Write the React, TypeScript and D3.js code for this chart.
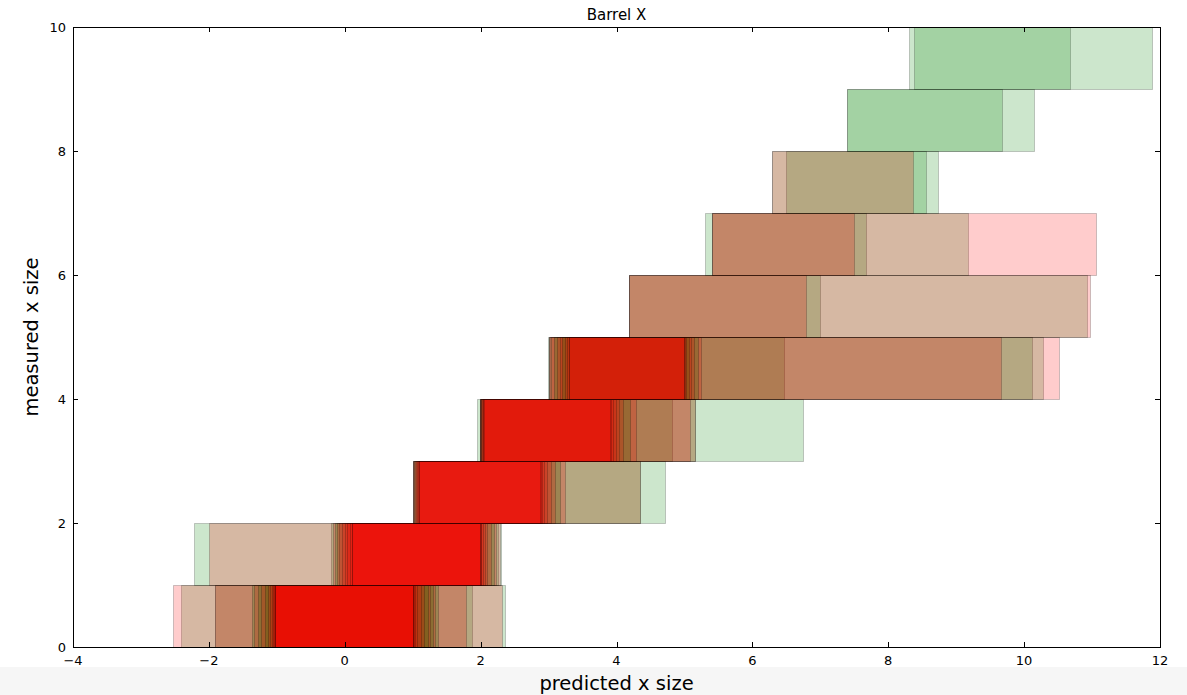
import React, { useRef, useEffect } from "react";
import * as d3 from "d3";

// tick values
const xTicks = [-4, -2, 0, 2, 4, 6, 8, 10, 12];
const yTicks = [0, 2, 4, 6, 8, 10];

// each bar: [series, predicted from, predicted to], in drawing order
type Bar = [string, number, number];

const row0: Bar[] = [
  ["g", -2.41, 2.36], ["g", -1.91, 1.87], ["r", -2.53, 2.31], ["r", -1.91, 1.79],
  ["g", -1.37, 1.37], ["r", -1.33, 1.33], ["g", -1.28, 1.3], ["r", -1.24, 1.26],
  ["g", -1.18, 1.22], ["r", -1.13, 1.17], ["r", -1.1, 1.12], ["r", -1.07, 1.07],
  ["r", -1.05, 1.04], ["r", -1.04, 1.02], ["r", -1.03, 1.01], ["r", -1.02, 1.0],
  ["r", -1.02, 1.0],
];
const row1: Bar[] = [
  ["g", -2.22, 2.3], ["g", -0.2, 2.25], ["r", -2.0, 2.28], ["r", -0.18, 2.22],
  ["g", -0.14, 2.2], ["r", -0.12, 2.15], ["r", -0.08, 2.1], ["r", -0.04, 2.06],
  ["r", 0.0, 2.03], ["r", 0.04, 2.01], ["r", 0.07, 2.0], ["r", 0.1, 1.99],
  ["r", 0.1, 1.99],
];
const row2: Bar[] = [
  ["g", 1.0, 4.72], ["g", 1.0, 4.35], ["r", 1.0, 4.35], ["r", 1.0, 3.24],
  ["g", 1.02, 3.17], ["r", 1.02, 3.1], ["r", 1.04, 3.03], ["r", 1.05, 2.98],
  ["r", 1.06, 2.94], ["r", 1.08, 2.91], ["r", 1.1, 2.89], ["r", 1.1, 2.87],
];
const row3: Bar[] = [
  ["g", 1.94, 6.74], ["g", 1.99, 5.15], ["g", 1.99, 4.81], ["r", 1.99, 5.15],
  ["r", 1.99, 5.08], ["r", 1.99, 4.29], ["g", 2.0, 4.2], ["r", 2.0, 4.1],
  ["r", 2.01, 4.04], ["r", 2.02, 3.99], ["r", 2.03, 3.95], ["r", 2.04, 3.92],
  ["r", 2.05, 3.9],
];
const row4: Bar[] = [
  ["g", 2.99, 10.28], ["g", 3.0, 10.12], ["g", 3.02, 6.47], ["r", 3.0, 10.51],
  ["r", 3.01, 9.66], ["r", 3.04, 5.25], ["g", 3.08, 5.2], ["r", 3.12, 5.14],
  ["r", 3.17, 5.1], ["g", 3.2, 5.06], ["r", 3.24, 5.03], ["r", 3.27, 5.01],
  ["r", 3.3, 5.0], ["r", 3.3, 5.0],
];
const row5: Bar[] = [
  ["g", 4.19, 10.92], ["g", 4.19, 7.0], ["r", 4.19, 10.97], ["r", 4.19, 6.79],
];
const row6: Bar[] = [
  ["g", 5.3, 9.18], ["g", 5.4, 7.67], ["r", 5.4, 11.06], ["r", 5.4, 7.49],
];
const row7: Bar[] = [
  ["g", 6.29, 8.73], ["g", 6.5, 8.56], ["r", 6.29, 8.36],
];
const row8: Bar[] = [
  ["g", 7.39, 10.14], ["g", 7.39, 9.68],
];
const row9: Bar[] = [
  ["g", 8.3, 11.88], ["g", 8.38, 10.68],
];

const measuredBins = [0, 1, 2, 3, 4, 5, 6, 7, 8, 9];
const rows = [row0, row1, row2, row3, row4, row5, row6, row7, row8, row9];

const seriesColor: Record<string, string> = { g: "#008000", r: "#ff0000" };

const App = () => {
  const svgRef = useRef<SVGSVGElement>(null);

  useEffect(() => {
    if (!svgRef.current) return;
    const svg = d3.select(svgRef.current);
    svg.selectAll("*").remove();

    const width = 1187;
    const height = 695;
    const margin = { top: 27, right: 27, bottom: 48, left: 73 };
    const font = "DejaVu Sans, sans-serif";

    const x = d3.scaleLinear().domain([-4, 12]).range([margin.left, width - margin.right]);
    const y = d3.scaleLinear().domain([0, 10]).range([height - margin.bottom, margin.top]);

    svg.append("rect").attr("width", width).attr("height", height).attr("fill", "#fff");
    svg.append("rect").attr("y", 667).attr("width", width).attr("height", height - 667).attr("fill", "#f6f6f6");

    const snap = (v: number) => Math.round(v) + 0.5;

    const plot = svg.append("g");
    measuredBins.forEach((bin, i) => {
      plot
        .append("g")
        .selectAll("rect")
        .data(rows[i])
        .join("rect")
        .attr("x", (d) => snap(x(d[1])))
        .attr("y", snap(y(bin + 1)))
        .attr("width", (d) => snap(x(d[2])) - snap(x(d[1])))
        .attr("height", snap(y(bin)) - snap(y(bin + 1)))
        .attr("fill", (d) => seriesColor[d[0]])
        .attr("fill-opacity", 0.2)
        .attr("stroke", "#000")
        .attr("stroke-opacity", 0.2)
        .attr("stroke-width", 1);
    });

    const x0 = margin.left, x1 = width - margin.right;
    const y0 = height - margin.bottom, y1 = margin.top;
    const tickLen = 5;

    const axes = svg.append("g").attr("stroke", "#000").attr("stroke-width", 1);
    xTicks.forEach((t) => {
      const px = snap(x(t));
      axes.append("line").attr("x1", px).attr("x2", px).attr("y1", y0).attr("y2", y0 - tickLen);
      axes.append("line").attr("x1", px).attr("x2", px).attr("y1", y1).attr("y2", y1 + tickLen);
    });
    yTicks.forEach((t) => {
      const py = snap(y(t));
      axes.append("line").attr("x1", x0).attr("x2", x0 + tickLen).attr("y1", py).attr("y2", py);
      axes.append("line").attr("x1", x1).attr("x2", x1 - tickLen).attr("y1", py).attr("y2", py);
    });
    svg
      .append("rect")
      .attr("x", snap(x0))
      .attr("y", snap(y1))
      .attr("width", snap(x1) - snap(x0))
      .attr("height", snap(y0) - snap(y1))
      .attr("fill", "none")
      .attr("stroke", "#000")
      .attr("stroke-width", 1);

    const lbl = (t: number) => String(t).replace("-", "\u2212");

    svg
      .append("g")
      .selectAll("text")
      .data(xTicks)
      .join("text")
      .attr("x", (d) => x(d))
      .attr("y", y0 + 18)
      .attr("text-anchor", "middle")
      .attr("font-family", font)
      .attr("font-size", 13)
      .attr("fill", "#000")
      .text(lbl);

    svg
      .append("g")
      .selectAll("text")
      .data(yTicks)
      .join("text")
      .attr("x", x0 - 7)
      .attr("y", (d) => y(d) + 4.5)
      .attr("text-anchor", "end")
      .attr("font-family", font)
      .attr("font-size", 13)
      .attr("fill", "#000")
      .text(lbl);

    svg
      .append("text")
      .attr("x", (x0 + x1) / 2)
      .attr("y", 20)
      .attr("text-anchor", "middle")
      .attr("font-family", font)
      .attr("font-size", 15)
      .text("Barrel X");

    svg
      .append("text")
      .attr("x", (x0 + x1) / 2)
      .attr("y", 690)
      .attr("text-anchor", "middle")
      .attr("font-family", font)
      .attr("font-size", 19.5)
      .text("predicted x size");

    svg
      .append("text")
      .attr("transform", `translate(38,${(y0 + y1) / 2}) rotate(-90)`)
      .attr("text-anchor", "middle")
      .attr("font-family", font)
      .attr("font-size", 19.5)
      .text("measured x size");
  }, []);

  return (
    <div style={{ position: "absolute", left: 0, top: 0 }}>
      <svg ref={svgRef} width={1187} height={695} style={{ display: "block" }}></svg>
    </div>
  );
};

export default App;
